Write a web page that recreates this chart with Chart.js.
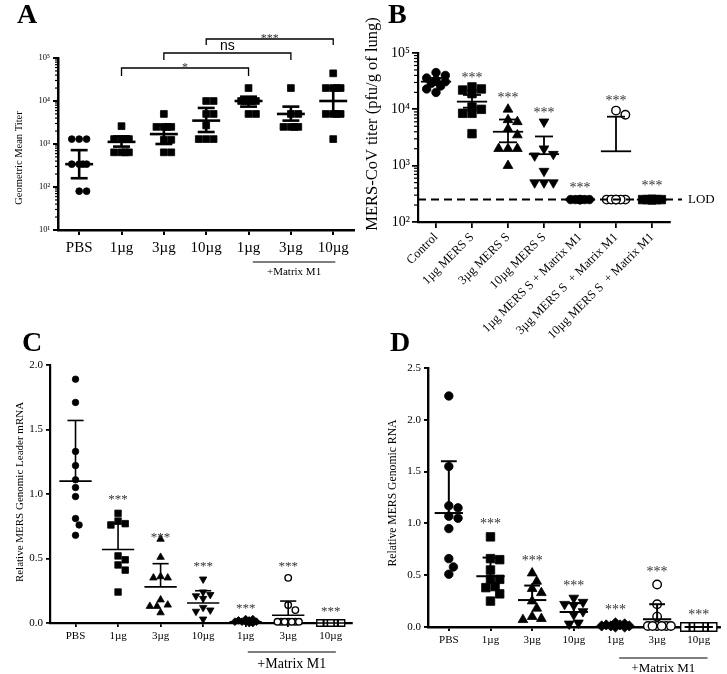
<!DOCTYPE html>
<html>
<head>
<meta charset="utf-8">
<script src="https://cdn.jsdelivr.net/npm/chart.js@4.4.1/dist/chart.umd.min.js"></script>
<style>
  body { margin: 0; background: #fff; }
  #wrap { position: relative; width: 727px; height: 674px; overflow: hidden; }
  canvas { position: absolute; }
  .tag { position: absolute; font: bold 28px "Liberation Serif", serif; line-height: 1; color: #000; }
</style>
</head>
<body>
<div id="wrap">
  <canvas id="chartA" width="360" height="300" style="left:0;top:0"></canvas>
  <canvas id="chartB" width="367" height="350" style="left:360px;top:0"></canvas>
  <canvas id="chartC" width="360" height="344" style="left:0;top:330px"></canvas>
  <canvas id="chartD" width="367" height="344" style="left:360px;top:330px"></canvas>
  <div class="tag" style="left:17px;top:0">A</div>
  <div class="tag" style="left:388px;top:0">B</div>
  <div class="tag" style="left:22px;top:328px">C</div>
  <div class="tag" style="left:390px;top:328px">D</div>
</div>
<script>
const SERIF = '"Liberation Serif", "Times New Roman", serif';

// ---- A: geometric mean titer ----
const groupsA = ['PBS', '1µg', '3µg', '10µg', '1µg', '3µg', '10µg'];
const titerA = [
  [1300, 1300, 1300, 340, 340, 340, 340, 80, 80],
  [2600, 1300, 1300, 1300, 1300, 640, 640, 640, 640],
  [5000, 2500, 2500, 2500, 2500, 1250, 1250, 640, 640],
  [10000, 10000, 5000, 5000, 2700, 1300, 1300, 1300],
  [20000, 10000, 10000, 10000, 10000, 10000, 5000, 5000],
  [20000, 5000, 5000, 2500, 2500, 2500, 2500],
  [44000, 20000, 20000, 20000, 20000, 5000, 5000, 5000, 5000, 1300]
];
const meanA = [340, 1120, 1700, 3500, 10000, 5000, 10000];
const upperA = [720, 1500, 2700, 6900, 12600, 7400, 20000];
const lowerA = [160, 870, 1000, 1900, 7400, 3500, 5000];
const bracketsA = [[2, 5, '*'], [3, 6, 'ns'], [4, 7, '***']];

// ---- B: lung titer ----
const groupsB = ['Control', '1µg MERS S', '3µg MERS S', '10µg MERS S',
  '1µg MERS S + Matrix M1', '3µg MERS S  + Matrix M1', '10µg MERS S  + Matrix M1'];
const titerB = [
  [45000, 40000, 36000, 33000, 31000, 29000, 26000, 23000, 20000],
  [25000, 23000, 22000, 19000, 11000, 10000, 8500, 8500, 3700],
  [10000, 6500, 6000, 4500, 3500, 2000, 2000, 2000, 1000],
  [6000, 2000, 1600, 1500, 800, 500, 500, 500],
  [250, 250, 250, 250, 250, 250, 250, 250],
  [9500, 8000, 250, 250, 250, 250, 250, 250],
  [250, 250, 250, 250, 250, 250, 250, 250]
];
const meanB = [31000, 13700, 4000, 1600, 250, 1800, 250];
const upperB = [36000, 18000, 6600, 3300, null, 7400, null];
const lowerB = [27000, 10700, 2600, null, null, null, null];
const sigB = [null, 42500, 18700, 10200, 460, 16600, 500];
const lodB = 250;

// ---- C: genomic leader mRNA ----
const groupsC = ['PBS', '1µg', '3µg', '10µg', '1µg', '3µg', '10µg'];
const relC = [
  [1.89, 1.71, 1.33, 1.22, 1.11, 1.05, 0.98, 0.81, 0.76, 0.68],
  [0.85, 0.79, 0.77, 0.76, 0.52, 0.49, 0.45, 0.41, 0.24],
  [0.65, 0.51, 0.36, 0.35, 0.35, 0.18, 0.14, 0.13, 0.13, 0.08],
  [0.34, 0.24, 0.22, 0.21, 0.19, 0.12, 0.10, 0.09, 0.03],
  [0.03, 0.03, 0.02, 0.02, 0.01, 0.01, 0.01, 0.01, 0.0, 0.0],
  [0.35, 0.14, 0.10, 0.01, 0.01, 0.01, 0.01, 0.01, 0.01, 0.01],
  [0, 0, 0, 0, 0, 0, 0, 0, 0]
];
const meanC = [1.10, 0.57, 0.28, 0.155, 0.01, 0.06, 0.0];
const upperC = [1.57, 0.77, 0.46, 0.25, null, 0.17, null];
const sigC = [null, 0.985, 0.69, 0.47, 0.137, 0.47, 0.12];

// ---- D: genomic RNA ----
const groupsD = ['PBS', '1µg', '3µg', '10µg', '1µg', '3µg', '10µg'];
const relD = [
  [2.23, 1.55, 1.17, 1.15, 1.07, 1.05, 0.95, 0.66, 0.58, 0.51],
  [0.87, 0.66, 0.65, 0.55, 0.46, 0.46, 0.39, 0.38, 0.32, 0.25],
  [0.52, 0.44, 0.37, 0.33, 0.25, 0.18, 0.10, 0.08, 0.07],
  [0.28, 0.24, 0.22, 0.21, 0.15, 0.12, 0.04, 0.03],
  [0.04, 0.03, 0.02, 0.02, 0.01, 0.01, 0.01, 0.0, 0.0],
  [0.41, 0.22, 0.10, 0.01, 0.01, 0.01, 0.01, 0.01, 0.01],
  [0, 0, 0, 0, 0, 0, 0, 0, 0]
];
const meanD = [1.10, 0.49, 0.26, 0.145, 0.01, 0.075, 0.0];
const upperD = [1.60, 0.67, 0.40, 0.23, null, 0.22, null];
const sigD = [null, 1.03, 0.67, 0.435, 0.2, 0.565, 0.15];

const SUP = {1: '¹', 2: '²', 3: '³', 4: '⁴', 5: '⁵'};
const shapes7 = ['circle', 'rect', 'triangle', 'triangleDown', 'rectRot', 'circleOpen', 'rectOpen'];

// spread points sideways so equal values don't sit on top of each other
function swarm(vals, center, o) {
  const placed = [];
  const out = [];
  vals.map((v, i) => i).sort((a, b) => vals[b] - vals[a]).forEach(i => {
    const py = (o.log ? Math.log10(vals[i]) : vals[i]) * o.pxY;
    let best = 0, bestD = -1;
    for (let k = 0; k < 24; k++) {
      const off = (k % 2 ? 1 : -1) * Math.ceil(k / 2) * o.size * 0.55;
      if (Math.abs(off) > o.span) continue;
      let mind = Infinity;
      placed.forEach(p => { mind = Math.min(mind, Math.hypot(p.x - off, p.y - py)); });
      if (mind >= o.size) { best = off; break; }
      if (mind > bestD) { bestD = mind; best = off; }
    }
    placed.push({x: best, y: py});
    out[i] = {x: center + best / o.pxX, y: vals[i]};
  });
  return out;
}

function line(ctx, x1, y1, x2, y2) {
  ctx.beginPath(); ctx.moveTo(x1, y1); ctx.lineTo(x2, y2); ctx.stroke();
}

function deco(o) {
  return {
    id: 'deco',
    afterDatasetsDraw(chart) {
      const {ctx, chartArea: ca, scales: {x, y}} = chart;
      ctx.save();
      ctx.strokeStyle = '#000';
      ctx.fillStyle = '#000';
      if (o.log) {
        ctx.lineWidth = 1.2;
        for (let e = Math.log10(y.min); e < Math.log10(y.max) - 0.01; e++) {
          for (let k = 2; k < 10; k++) {
            const py = y.getPixelForValue(k * Math.pow(10, e));
            line(ctx, ca.left, py, ca.left - o.minor, py);
          }
        }
      }
      ctx.lineWidth = o.lw;
      o.mean.forEach((m, i) => {
        const cx = x.getPixelForValue(i + 1), my = y.getPixelForValue(m);
        line(ctx, x.getPixelForValue(i + 1 - o.mw), my, x.getPixelForValue(i + 1 + o.mw), my);
        [o.upper[i], o.lower ? o.lower[i] : null].forEach(v => {
          if (v == null) return;
          const vy = y.getPixelForValue(v);
          line(ctx, cx, my, cx, vy);
          line(ctx, x.getPixelForValue(i + 1 - o.cw), vy, x.getPixelForValue(i + 1 + o.cw), vy);
        });
      });
      if (o.sig) {
        ctx.fillStyle = '#333';
        ctx.font = o.sigFont + 'px ' + SERIF;
        ctx.textAlign = 'center';
        ctx.textBaseline = 'alphabetic';
        o.sig.forEach((v, i) => {
          if (v == null) return;
          ctx.fillText('***', x.getPixelForValue(i + 1), y.getPixelForValue(v) + o.sigFont * 0.55);
        });
      }
      ctx.fillStyle = '#000';
      ctx.save();
      ctx.translate(o.title.x, o.title.y);
      ctx.rotate(-Math.PI / 2);
      ctx.font = o.title.size + 'px ' + SERIF;
      ctx.textAlign = 'center';
      ctx.textBaseline = 'middle';
      ctx.fillText(o.title.text, 0, 0);
      ctx.restore();
      if (o.matrix) {
        const m = o.matrix;
        ctx.lineWidth = 1.2;
        line(ctx, x.getPixelForValue(m.from), m.y, x.getPixelForValue(m.to), m.y);
        ctx.font = m.size + 'px ' + SERIF;
        ctx.textAlign = 'center';
        ctx.textBaseline = 'middle';
        ctx.fillText('+Matrix M1', (x.getPixelForValue(m.from) + x.getPixelForValue(m.to)) / 2, m.ty);
      }
      if (o.extra) o.extra(chart, ctx);
      ctx.restore();
    }
  };
}

function panel(id, o) {
  const datasets = o.values.map((vals, i) => {
    const shape = o.shapes[i];
    const open = shape.endsWith('Open');
    const base = shape.replace('Open', '').replace('Down', '');
    const s = o.size;
    const r = base === 'circle' ? s / 2 : base === 'rect' ? s / 2 * 1.414 : base === 'triangle' ? s * 0.66 : s * 0.6;
    return {
      data: swarm(vals, i + 1, o),
      pointStyle: base,
      pointRotation: shape === 'triangleDown' ? 180 : 0,
      pointRadius: r,
      pointBackgroundColor: open ? '#fff' : '#000',
      pointBorderColor: '#000',
      pointBorderWidth: open ? 1.4 : 0.8,
      showLine: false,
      clip: false
    };
  });
  const yTicks = o.log
    ? {callback: v => { const e = Math.round(Math.log10(v)); return '10' + SUP[e]; }}
    : {callback: v => v.toFixed(1), stepSize: 0.5};
  new Chart(document.getElementById(id), {
    type: 'scatter',
    data: {datasets},
    options: {
      responsive: false,
      animation: false,
      devicePixelRatio: 1,
      layout: {padding: o.pad},
      plugins: {legend: {display: false}, tooltip: {enabled: false}},
      scales: {
        x: {
          type: 'linear', min: o.xmin, max: 7.5,
          afterBuildTicks: s => { s.ticks = o.labels.map((l, i) => ({value: i + 1})); },
          afterFit: s => { s.height = o.xh; },
          ticks: {
            callback: v => o.labels[v - 1] || '', color: '#000', autoSkip: false,
            font: {family: SERIF, size: o.xFont}, padding: o.xPad,
            minRotation: o.rot, maxRotation: o.rot
          },
          grid: {drawOnChartArea: false, drawTicks: true, tickLength: o.tick, color: '#000', lineWidth: o.axisW * 0.8},
          border: {color: '#000', width: o.axisW}
        },
        y: Object.assign(o.log
          ? {type: 'logarithmic', afterBuildTicks: s => { s.ticks = o.decades.map(v => ({value: v, major: true})); }}
          : {type: 'linear'}, {
          min: o.ymin, max: o.ymax,
          afterFit: s => { s.width = o.yw; },
          ticks: Object.assign(yTicks, {color: '#000', font: {family: SERIF, size: o.yFont}, padding: o.yPad}),
          grid: {drawOnChartArea: false, drawTicks: true, tickLength: o.tick, color: '#000', lineWidth: o.axisW * 0.8},
          border: {color: '#000', width: o.axisW}
        })
      }
    },
    plugins: [deco(o)]
  });
}

panel('chartA', {
  labels: groupsA, values: titerA, mean: meanA, upper: upperA, lower: lowerA,
  shapes: ['circle', 'rect', 'rect', 'rect', 'rect', 'rect', 'rect'],
  log: true, ymin: 10, ymax: 100000, decades: [10, 100, 1000, 10000, 100000],
  xmin: 0.5, pad: {left: 0, right: 2, top: 58, bottom: 40}, xh: 30, yw: 58,
  size: 6.8, pxX: 42.8, pxY: 43, span: 14,
  xFont: 15, yFont: 8.5, xPad: 4, yPad: 3, tick: 5, axisW: 2.5, minor: 3, rot: 0,
  lw: 2.6, mw: 0.33, cw: 0.2,
  title: {text: 'Geometric Mean Titer', x: 19, y: 158, size: 10.5},
  matrix: {from: 5.1, to: 7.05, y: 262, ty: 272, size: 11},
  extra: (chart, ctx) => {
    const x = chart.scales.x;
    const levels = [{y: 68, d: 8}, {y: 53, d: 7}, {y: 39, d: 6}];
    ctx.lineWidth = 1.3;
    bracketsA.forEach(([a, b, t], i) => {
      const L = levels[i], xa = x.getPixelForValue(a), xb = x.getPixelForValue(b);
      ctx.beginPath();
      ctx.moveTo(xa, L.y + L.d); ctx.lineTo(xa, L.y); ctx.lineTo(xb, L.y); ctx.lineTo(xb, L.y + L.d);
      ctx.stroke();
      ctx.textAlign = 'center';
      ctx.textBaseline = 'alphabetic';
      if (t === 'ns') {
        ctx.font = '14px "Liberation Sans", Arial, sans-serif';
        ctx.fillText(t, (xa + xb) / 2, L.y - 3);
      } else {
        ctx.fillStyle = '#333';
        ctx.font = '12px ' + SERIF;
        ctx.fillText(t, (xa + xb) / 2, L.y + 3);
        ctx.fillStyle = '#000';
      }
    });
  }
});

panel('chartB', {
  labels: groupsB, values: titerB, mean: meanB, upper: upperB, lower: lowerB, sig: sigB, sigFont: 14,
  shapes: ['circle', 'rect', 'triangle', 'triangleDown', 'circle', 'circleOpen', 'rect'],
  log: true, ymin: 100, ymax: 100000, decades: [100, 1000, 10000, 100000],
  xmin: 0.5, pad: {left: 0, right: 57, top: 53, bottom: 8}, xh: 120, yw: 58,
  size: 8.5, pxX: 36, pxY: 56.5, span: 13,
  xFont: 12.5, yFont: 14, xPad: 2, yPad: 2, tick: 6, axisW: 2.2, minor: 4, rot: 45,
  lw: 1.8, mw: 0.42, cw: 0.25,
  title: {text: 'MERS-CoV titer (pfu/g of lung)', x: 13, y: 124, size: 16.5},
  extra: (chart, ctx) => {
    const {chartArea: ca, scales: {y}} = chart;
    const py = y.getPixelForValue(lodB);
    ctx.lineWidth = 2;
    ctx.setLineDash([8, 5]);
    line(ctx, ca.left, py, 322, py);
    ctx.setLineDash([]);
    ctx.font = '13px ' + SERIF;
    ctx.textAlign = 'left';
    ctx.textBaseline = 'middle';
    ctx.fillText('LOD', 328, py);
  }
});

panel('chartC', {
  labels: groupsC, values: relC, mean: meanC, upper: upperC, sig: sigC, sigFont: 13,
  shapes: shapes7,
  log: false, ymin: 0, ymax: 2.0,
  xmin: 0.4, pad: {left: 0, right: 8, top: 35, bottom: 21}, xh: 30, yw: 50,
  size: 6.5, pxX: 42.5, pxY: 129, span: 14,
  xFont: 11, yFont: 11, xPad: 3, yPad: 3, tick: 4, axisW: 2.2, rot: 0,
  lw: 1.6, mw: 0.38, cw: 0.19,
  title: {text: 'Relative MERS Genomic Leader mRNA', x: 20, y: 162, size: 11},
  matrix: {from: 5.05, to: 7.12, y: 322, ty: 334, size: 14}
});

panel('chartD', {
  labels: groupsD, values: relD, mean: meanD, upper: upperD, sig: sigD, sigFont: 14,
  shapes: shapes7,
  log: false, ymin: 0, ymax: 2.5,
  xmin: 0.5, pad: {left: 0, right: 2, top: 38, bottom: 17}, xh: 30, yw: 68,
  size: 8.5, pxX: 42.3, pxY: 103.5, span: 15,
  xFont: 11, yFont: 11, xPad: 3, yPad: 3, tick: 4, axisW: 2.4, rot: 0,
  lw: 2, mw: 0.34, cw: 0.19,
  title: {text: 'Relative MERS Genomic RNA', x: 33, y: 163, size: 11.7},
  matrix: {from: 5.09, to: 7.21, y: 328, ty: 339, size: 13}
});
</script>
</body>
</html>
